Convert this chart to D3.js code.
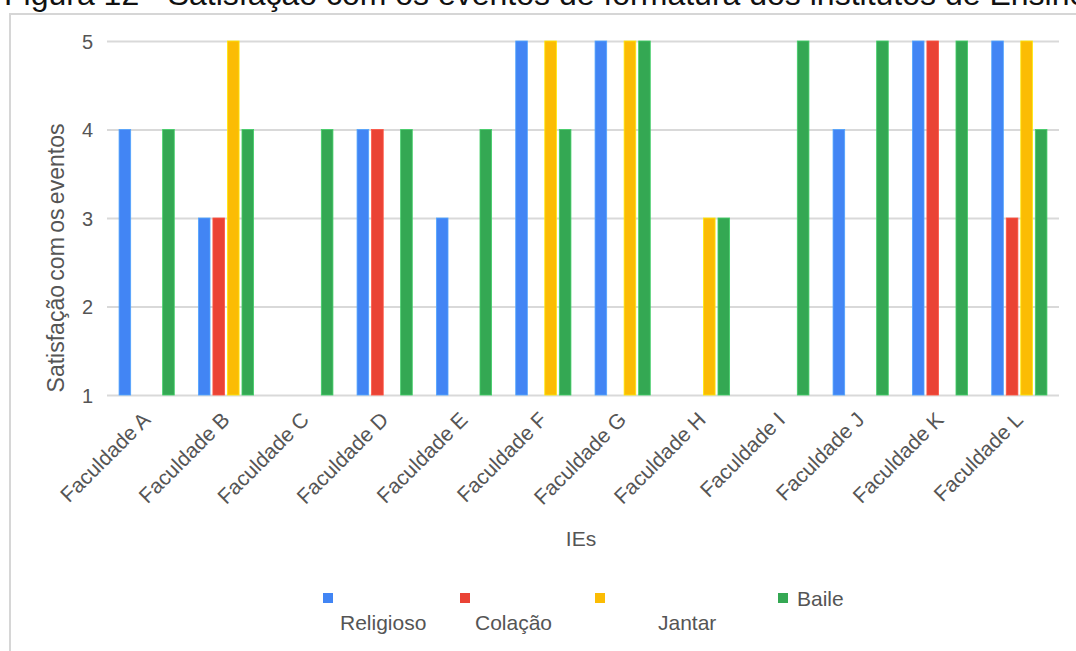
<!DOCTYPE html>
<html>
<head>
<meta charset="utf-8">
<script src="https://cdn.jsdelivr.net/npm/d3@7"></script>
<style>
  html, body { margin: 0; padding: 0; background: #fff; }
  svg { display: block; font-family: "Liberation Sans", Arial, sans-serif; }
</style>
</head>
<body>
<svg id="chart" width="1076" height="651"></svg>
<script>
// Faculdades (categorias do eixo X)
const categories = ["Faculdade A", "Faculdade B", "Faculdade C", "Faculdade D", "Faculdade E", "Faculdade F",
                    "Faculdade G", "Faculdade H", "Faculdade I", "Faculdade J", "Faculdade K", "Faculdade L"];

// Séries: satisfação (1 a 5) por evento; null = sem resposta
const seriesNames = ["Religioso", "Colação", "Jantar", "Baile"];
const religioso = [4, 3, null, 4, 3, 5, 5, null, null, 4, 5, 5];
const colacao   = [null, 3, null, 4, null, null, null, null, null, null, 5, 3];
const jantar    = [null, 5, null, null, null, 5, 5, 3, null, null, null, 5];
const baile     = [4, 4, 4, 4, 4, 4, 5, 3, 5, 5, 5, 4];

const yTicks = [1, 2, 3, 4, 5];
const colors = ["#4285F4", "#EA4335", "#FBBC04", "#34A853"];

const seriesValues = [religioso, colacao, jantar, baile];
const rows = categories.map((c, i) => ({
  cat: c,
  vals: seriesNames.map((s, k) => ({ key: s, value: seriesValues[k][i] }))
}));

const svg = d3.select("#chart");
const textColor = "#555555";
const font = "Liberation Sans, Arial, sans-serif";

// Título da figura (parcialmente cortado no topo)
svg.append("text")
  .attr("x", 4).attr("y", 5)
  .attr("font-size", 32)
  .attr("fill", "#111")
  .text("Figura 12 - Satisfação com os eventos de formatura dos institutos de Ensino");

// Moldura do gráfico
svg.append("rect")
  .attr("x", 10).attr("y", 14)
  .attr("width", 1100).attr("height", 700)
  .attr("fill", "#fff")
  .attr("stroke", "#d6d6d6").attr("stroke-width", 2);

const plot = { left: 107, right: 1059, top: 41, bottom: 395 };

const x0 = d3.scaleBand().domain(categories).range([plot.left, plot.right]).padding(0);
const x1 = d3.scaleBand().domain(seriesNames).range([0, x0.bandwidth()])
  .paddingInner(0.2).paddingOuter(0.83);
const y = d3.scaleLinear().domain([1, 5]).range([plot.bottom, plot.top]);
const color = d3.scaleOrdinal().domain(seriesNames).range(colors);

// Linhas de grade e rótulos do eixo Y
const yAxis = d3.axisLeft(y).tickValues(yTicks).tickFormat(d3.format("d"))
  .tickSize(-(plot.right - plot.left)).tickPadding(14);
const gy = svg.append("g").attr("transform", `translate(${plot.left},0)`).call(yAxis);
gy.select(".domain").remove();
gy.selectAll(".tick line").attr("stroke", "#d9d9d9").attr("stroke-width", 2);
gy.selectAll(".tick text").attr("font-size", 20).attr("fill", textColor)
  .attr("font-family", font).attr("dy", "0.36em");

// Barras agrupadas
const groups = svg.append("g").selectAll("g")
  .data(rows).join("g")
  .attr("transform", d => `translate(${x0(d.cat)},0)`);

groups.selectAll("rect")
  .data(d => d.vals.filter(v => v.value != null))
  .join("rect")
  .attr("x", d => x1(d.key))
  .attr("width", x1.bandwidth())
  .attr("y", d => y(d.value))
  .attr("height", d => y(1) - y(d.value))
  .attr("fill", d => color(d.key))
  .attr("stroke", d => d3.color(color(d.key)).brighter(0.6))
  .attr("stroke-width", 0.8);

// Rótulos do eixo X (inclinados)
const xAxis = d3.axisBottom(x0).tickSize(0).tickPadding(0);
const gx = svg.append("g").attr("transform", `translate(0,${plot.bottom})`).call(xAxis);
gx.select(".domain").remove();
gx.selectAll(".tick text")
  .attr("font-size", 21).attr("fill", textColor)
  .attr("font-family", font)
  .attr("text-anchor", "end")
  .attr("dy", 0)
  .attr("transform", "translate(5,26) rotate(-45)");

// Títulos dos eixos
svg.append("text")
  .attr("x", (plot.left + plot.right) / 2 - 2).attr("y", 546)
  .attr("text-anchor", "middle").attr("font-size", 21).attr("fill", textColor)
  .attr("font-family", font)
  .text("IEs");

svg.append("text")
  .attr("transform", `translate(64,258) rotate(-90)`)
  .attr("text-anchor", "middle").attr("font-size", 23).attr("fill", textColor)
  .attr("font-family", font).attr("word-spacing", -2)
  .text("Satisfação com os eventos");

// Legenda
const legendItems = [
  { key: "Religioso", sx: 323, tx: 340, ty: 630 },
  { key: "Colação",  sx: 460, tx: 475, ty: 630 },
  { key: "Jantar",   sx: 595, tx: 658, ty: 630 },
  { key: "Baile",    sx: 778, tx: 797, ty: 606 }
];
const lg = svg.append("g").selectAll("g").data(legendItems).join("g");
lg.append("rect")
  .attr("x", d => d.sx).attr("y", 593).attr("width", 10).attr("height", 10)
  .attr("fill", d => color(d.key));
lg.append("text")
  .attr("x", d => d.tx).attr("y", d => d.ty)
  .attr("font-size", 21).attr("fill", textColor)
  .attr("font-family", font)
  .text(d => d.key);
</script>
</body>
</html>
